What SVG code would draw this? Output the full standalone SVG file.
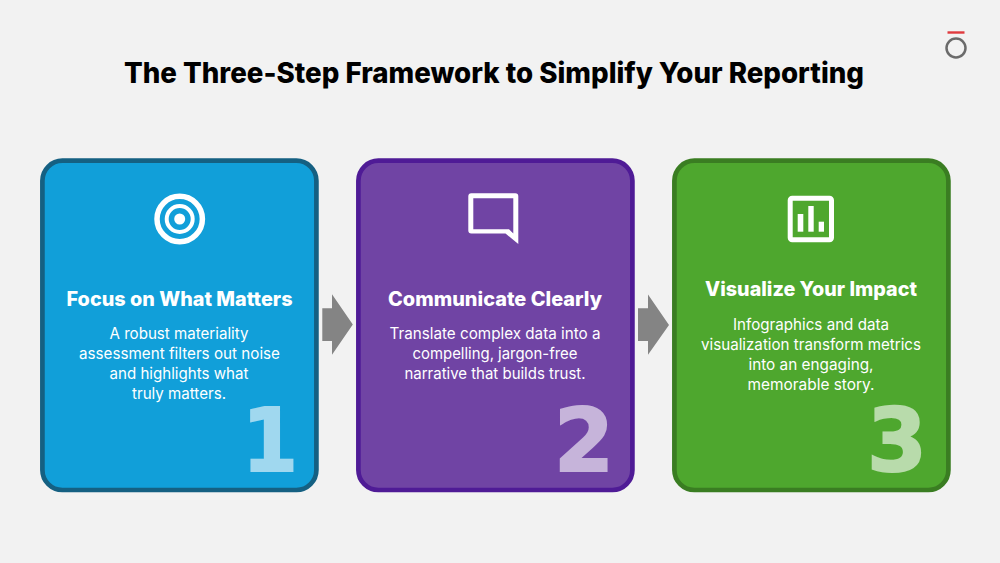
<svg xmlns="http://www.w3.org/2000/svg" width="1000" height="563" viewBox="0 0 1000 563">
<style>
text{font-family:Inter,"Liberation Sans",Arial,sans-serif;text-anchor:middle}
.title{font-size:28px;font-weight:800;fill:#000}
.h{font-size:20px;font-weight:800;fill:#fff}
.b{font-size:15.500px;fill:#fff}
.n{font-size:87px;font-weight:700;fill:#fff;stroke:#fff;stroke-width:2;opacity:.6;font-family:"DejaVu Sans",sans-serif}
.card{stroke-width:4.700}
.ico{fill:none;stroke:#fff}
.arrow{fill:#848484}
</style>
<rect width="1000" height="563" fill="#f2f2f2"/>
<g id="logo"><rect x="947.500" y="31.300" width="17" height="2.400" fill="#e03a3e"/><circle cx="956" cy="48" r="9.500" fill="none" stroke="#6b6b6b" stroke-width="2.500"/></g>
<text id="title" class="title" x="494" y="83" textLength="740" lengthAdjust="spacingAndGlyphs">The Three-Step Framework to Simplify Your Reporting</text>
<g id="connectors">
<path class="arrow" d="M322.300 308.300H332V294.200L352.800 324.500L332 354.700V341H322.300Z"/>
<path class="arrow" d="M638 308.300H648V294.500L669 325L648 354.700V341H638Z"/>
</g>
<g id="card1">
<rect class="card" x="42.400" y="160.700" width="274" height="329.300" rx="20" fill="#119fd9" stroke="#156082"/>
<circle class="ico" cx="179.700" cy="219" r="22.700" stroke-width="5.500"/><circle class="ico" cx="179.700" cy="219" r="13" stroke-width="4"/><circle cx="179.700" cy="219" r="5.500" fill="#fff"/>
<text class="h" x="179.500" y="306" textLength="226" lengthAdjust="spacingAndGlyphs">Focus on What Matters</text>
<text class="b" x="179" y="339" textLength="139" lengthAdjust="spacingAndGlyphs">A robust materiality</text>
<text class="b" x="179.500" y="359" textLength="201" lengthAdjust="spacingAndGlyphs">assessment filters out noise</text>
<text class="b" x="179" y="379" textLength="139" lengthAdjust="spacingAndGlyphs">and highlights what</text>
<text class="b" x="179" y="399" textLength="94" lengthAdjust="spacingAndGlyphs">truly matters.</text>
<text class="n" x="270" y="471" textLength="56" lengthAdjust="spacingAndGlyphs">1</text>
</g>
<g id="card2">
<rect class="card" x="358.400" y="160.700" width="274" height="329.300" rx="20" fill="#7044a4" stroke="#4f1b96"/>
<path fill="#fff" fill-rule="evenodd" d="M471.300 193.300H515.300Q518.300 193.300 518.300 196.300V244L505.500 233.500H471.300Q468.300 233.500 468.300 230.500V196.300Q468.300 193.300 471.300 193.300ZM473.300 198.300V229.300H509L513.300 233.500V198.300Z"/>
<text class="h" x="495" y="306" textLength="214" lengthAdjust="spacingAndGlyphs">Communicate Clearly</text>
<text class="b" x="495" y="339" textLength="211" lengthAdjust="spacingAndGlyphs">Translate complex data into a</text>
<text class="b" x="495" y="359" textLength="165" lengthAdjust="spacingAndGlyphs">compelling, jargon-free</text>
<text class="b" x="495" y="379" textLength="181" lengthAdjust="spacingAndGlyphs">narrative that builds trust.</text>
<text class="n" x="584" y="471" textLength="60" lengthAdjust="spacingAndGlyphs">2</text>
</g>
<g id="card3">
<rect class="card" x="674.400" y="160.700" width="274" height="329.300" rx="20" fill="#4ea72e" stroke="#3a7d22"/>
<rect class="ico" x="790.200" y="198.200" width="41.300" height="41.600" rx="2" stroke-width="5"/>
<rect x="797.700" y="214" width="5.600" height="17.700" fill="#fff"/><rect x="808.300" y="206" width="5.400" height="25.700" fill="#fff"/><rect x="818.700" y="221.700" width="5.300" height="10" fill="#fff"/>
<text class="h" x="811" y="296" textLength="212" lengthAdjust="spacingAndGlyphs">Visualize Your Impact</text>
<text class="b" x="811" y="330" textLength="156" lengthAdjust="spacingAndGlyphs">Infographics and data</text>
<text class="b" x="811" y="350" textLength="220" lengthAdjust="spacingAndGlyphs">visualization transform metrics</text>
<text class="b" x="811" y="370" textLength="125" lengthAdjust="spacingAndGlyphs">into an engaging,</text>
<text class="b" x="811" y="390" textLength="127" lengthAdjust="spacingAndGlyphs">memorable story.</text>
<text class="n" x="897" y="471" textLength="60" lengthAdjust="spacingAndGlyphs">3</text>
</g>
</svg>
